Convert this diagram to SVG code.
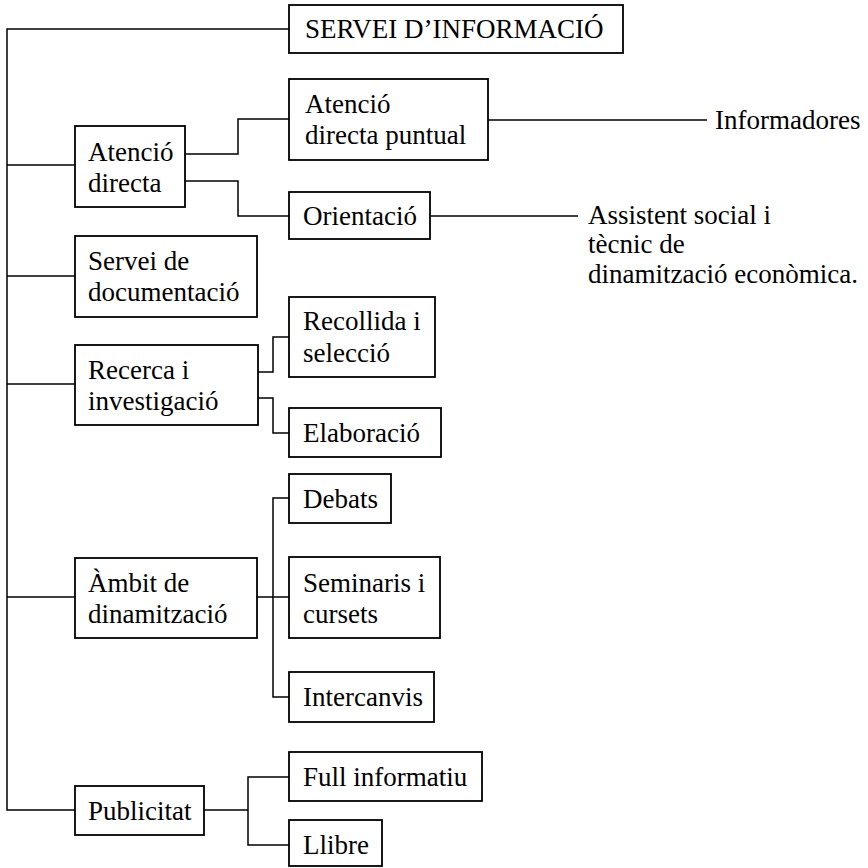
<svg xmlns="http://www.w3.org/2000/svg" width="868" height="868" viewBox="0 0 868 868">
<style>
.box{fill:#fff;stroke:#000;stroke-width:1.8}
.ln{fill:none;stroke:#000;stroke-width:1.5}
text{font-family:"Liberation Serif","Times New Roman",serif;font-size:27px;fill:#000}
</style>
<rect width="868" height="868" fill="#fff"/>
<g id="connectors" class="ln">
<path d="M289,29 H7 V810 H75"/>
<path d="M7,165 H75"/>
<path d="M7,276 H75"/>
<path d="M7,384 H75"/>
<path d="M7,597 H75"/>
<path d="M185,154 H238 V119 H289"/>
<path d="M185,181 H238 V216 H289"/>
<path d="M488,120 H707"/>
<path d="M430,216 H578"/>
<path d="M258,372 H273 V337 H289"/>
<path d="M258,398 H273 V433 H289"/>
<path d="M257,597 H289"/>
<path d="M289,498 H273 V697 H289"/>
<path d="M204,810 H248"/>
<path d="M289,777 H248 V845 H289"/>
</g>
<g id="n-servei"><rect class="box" x="289" y="5" width="334" height="48"/><text x="305" y="38">SERVEI D’INFORMACIÓ</text></g>
<g id="n-atencio"><rect class="box" x="75" y="126" width="110" height="81"/><text x="88" y="161">Atenció</text><text x="88" y="192">directa</text></g>
<g id="n-puntual"><rect class="box" x="289" y="79" width="199" height="81"/><text x="305" y="113">Atenció</text><text x="305" y="144">directa puntual</text></g>
<g id="n-orientacio"><rect class="box" x="289" y="192" width="141" height="47"/><text x="303" y="225">Orientació</text></g>
<g id="n-informadores"><text x="715" y="129">Informadores</text></g>
<g id="n-assistent"><text x="588" y="224">Assistent social i</text><text x="588" y="253">tècnic de</text><text x="588" y="283">dinamització econòmica.</text></g>
<g id="n-documentacio"><rect class="box" x="75" y="236" width="182" height="81"/><text x="88" y="270">Servei de</text><text x="88" y="301">documentació</text></g>
<g id="n-recerca"><rect class="box" x="75" y="345" width="183" height="80"/><text x="88" y="379">Recerca i</text><text x="88" y="410">investigació</text></g>
<g id="n-recollida"><rect class="box" x="289" y="297" width="146" height="80"/><text x="303" y="330">Recollida i</text><text x="303" y="362">selecció</text></g>
<g id="n-elaboracio"><rect class="box" x="289" y="408" width="152" height="49"/><text x="303" y="442">Elaboració</text></g>
<g id="n-debats"><rect class="box" x="289" y="474" width="102" height="49"/><text x="303" y="508">Debats</text></g>
<g id="n-ambit"><rect class="box" x="75" y="558" width="182" height="80"/><text x="88" y="592">Àmbit de</text><text x="88" y="623">dinamització</text></g>
<g id="n-seminaris"><rect class="box" x="289" y="557" width="151" height="81"/><text x="303" y="592">Seminaris i</text><text x="303" y="623">cursets</text></g>
<g id="n-intercanvis"><rect class="box" x="289" y="672" width="145" height="50"/><text x="303" y="706">Intercanvis</text></g>
<g id="n-publicitat"><rect class="box" x="75" y="786" width="129" height="49"/><text x="88" y="820">Publicitat</text></g>
<g id="n-full"><rect class="box" x="289" y="752" width="193" height="49"/><text x="303" y="786">Full informatiu</text></g>
<g id="n-llibre"><rect class="box" x="289" y="820" width="93" height="46"/><text x="303" y="854">Llibre</text></g>
</svg>
